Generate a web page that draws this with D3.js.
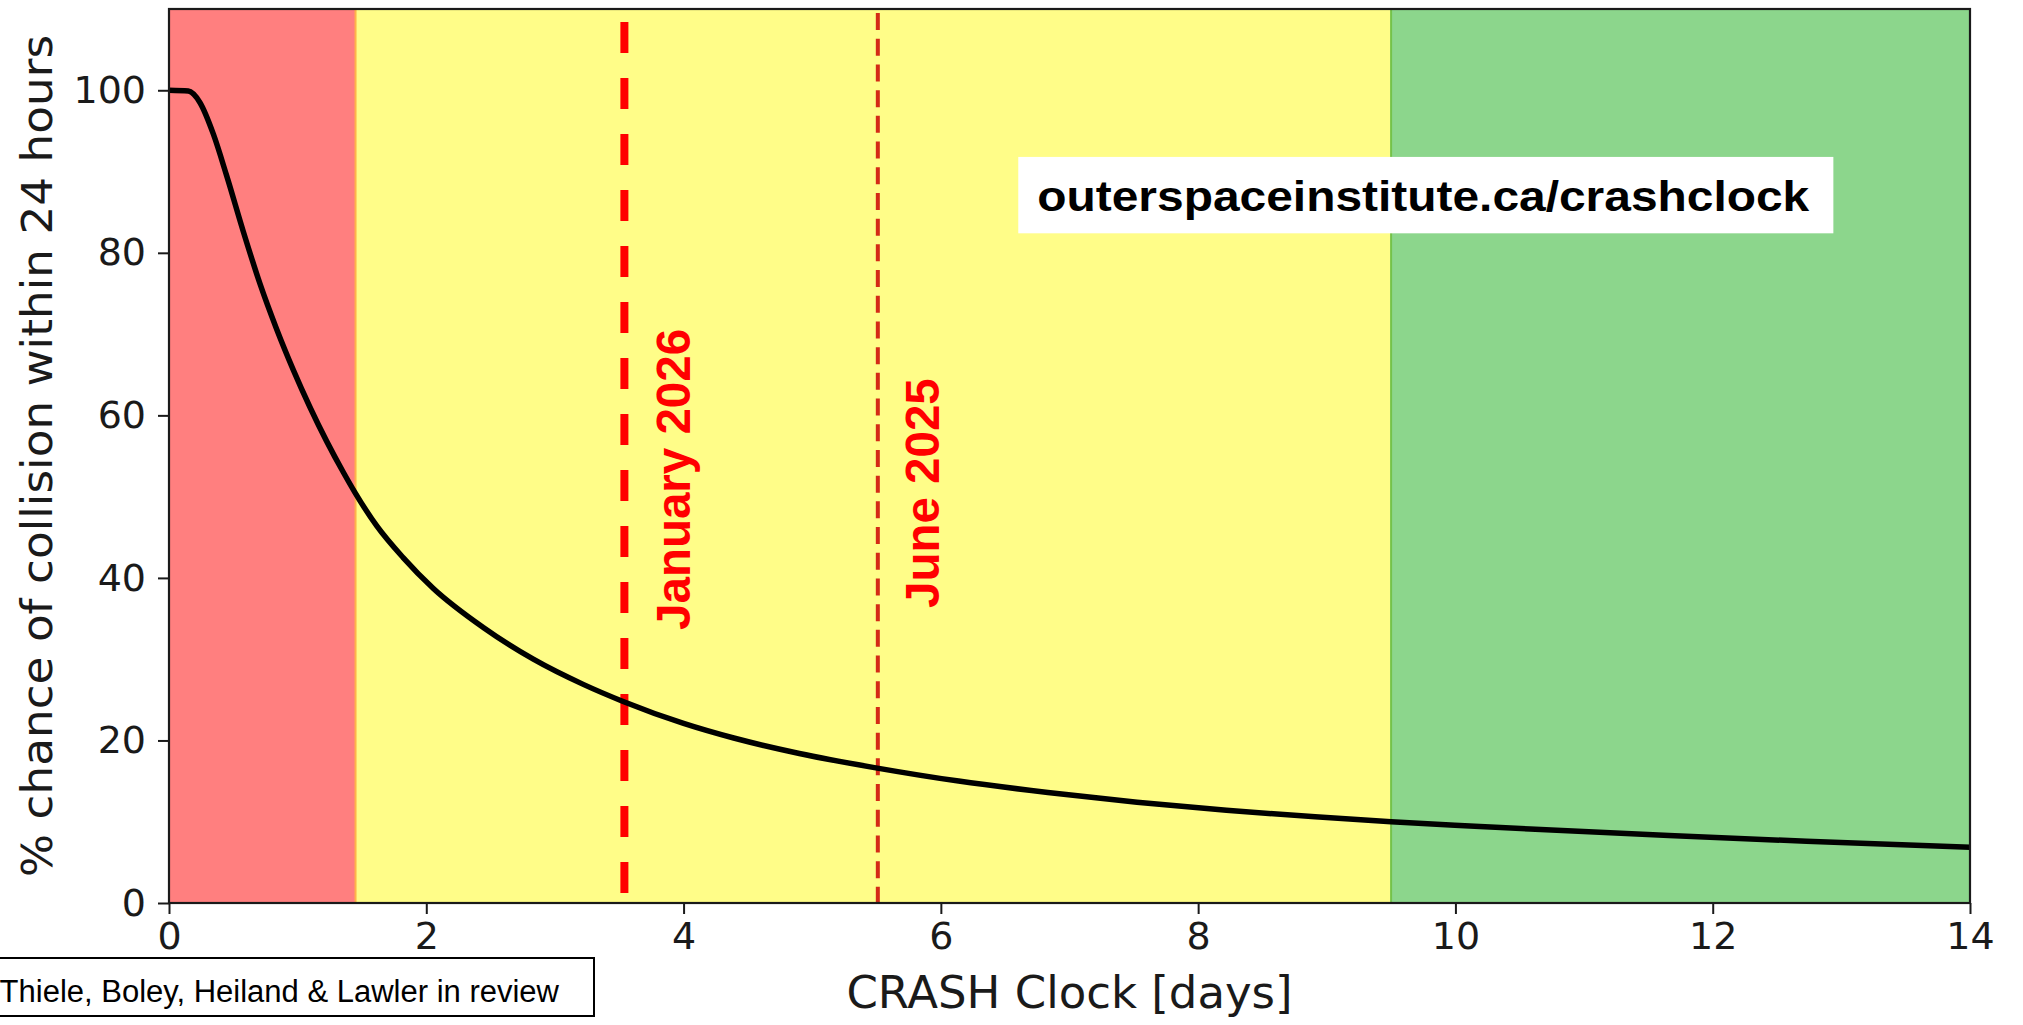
<!DOCTYPE html>
<html>
<head>
<meta charset="utf-8">
<script src="https://cdn.jsdelivr.net/npm/d3@7/dist/d3.min.js"></script>
<style>
  html, body { margin: 0; padding: 0; background: #ffffff; }
  svg { display: block; }
</style>
</head>
<body>
<svg id="chart" width="2023" height="1025"></svg>
<script>
// ---------- data ----------
const crashDays = [0, 0.15, 0.24, 0.345, 0.448, 0.578, 0.707, 0.837, 0.966, 1.096, 1.226, 1.355, 1.446, 1.615, 1.82, 2.055, 2.443, 2.832, 3.22, 3.53, 4.0, 4.39, 4.9, 5.506, 6.138, 6.832, 7.525, 8.22, 8.91, 9.5, 10.19, 10.58, 11.66, 12.73, 14.0];
const collisionPct = [100, 99.9, 98.5, 94.6, 89.5, 82.6, 76.2, 70.6, 65.6, 61.0, 56.8, 53.0, 50.5, 46.4, 42.5, 38.7, 33.9, 30.0, 26.9, 24.8, 22.1, 20.3, 18.4, 16.6, 15.0, 13.6, 12.4, 11.4, 10.6, 10.0, 9.42, 9.1, 8.3, 7.6, 6.85];
const zoneStarts = [0, 1.45, 9.5];
const zoneEnds = [1.45, 9.5, 14];
const markerDays = [3.54, 5.51];
const markerLabels = ["January 2026", "June 2025"];
const xTicks = [0, 2, 4, 6, 8, 10, 12, 14];
const yTicks = [0, 20, 40, 60, 80, 100];
const xDomain = [0, 14];
const yDomain = [0, 110];
const xTitle = "CRASH Clock [days]";
const yTitle = "% chance of collision within 24 hours";
const urlText = "outerspaceinstitute.ca/crashclock";
const citeText = "Thiele, Boley, Heiland & Lawler in review";

// ---------- styles ----------
const zoneFill = ["#ff7f7f", "#fffd88", "#8cd68c"];
const zoneEdge = ["#ffb24a", null, "#74c24a"];
const markerColor = ["#ff0000", "#d42a16"];
const markerWidth = [8, 4];
const markerDash = ["31,25", "17,8.7"];
const markerTop = [108.4, 109.5];
const markerBottom = [1.2, 0];
const labelOffset = [66, 61];
const labelStart = [33.6, 36.3];

const W = 2023, H = 1025;
const margin = { top: 9, right: 53, bottom: 122, left: 169 };
const iw = W - margin.left - margin.right;
const ih = H - margin.top - margin.bottom;

const svg = d3.select("#chart");
const g = svg.append("g").attr("transform", `translate(${margin.left},${margin.top})`);

const x = d3.scaleLinear().domain(xDomain).range([0, iw]);
const y = d3.scaleLinear().domain(yDomain).range([ih, 0]);

// zones
g.selectAll("rect.zone").data(zoneStarts).enter().append("rect")
  .attr("class", "zone")
  .attr("x", (d) => x(d))
  .attr("y", 0)
  .attr("width", (d, i) => x(zoneEnds[i]) - x(d))
  .attr("height", ih)
  .attr("fill", (d, i) => zoneFill[i]);

// zone edges
zoneStarts.forEach((d, i) => {
  if (!zoneEdge[i]) return;
  const ex = i === 0 ? x(zoneEnds[i]) : x(d);
  g.append("line").attr("x1", ex).attr("x2", ex).attr("y1", 0).attr("y2", ih)
    .attr("stroke", zoneEdge[i]).attr("stroke-width", 2);
});

// marker lines
markerDays.forEach((d, i) => {
  g.append("line")
    .attr("x1", x(d)).attr("x2", x(d))
    .attr("y1", y(markerTop[i])).attr("y2", y(markerBottom[i]))
    .attr("stroke", markerColor[i])
    .attr("stroke-width", markerWidth[i])
    .attr("stroke-dasharray", markerDash[i]);
});

// curve
const pts = crashDays.map((d, i) => [d, collisionPct[i]]);
const line = d3.line().x((d) => x(d[0])).y((d) => y(d[1])).curve(d3.curveMonotoneX);
g.append("path").datum(pts)
  .attr("d", line)
  .attr("fill", "none")
  .attr("stroke", "#000")
  .attr("stroke-width", 5.5)
  .attr("stroke-linejoin", "round");

// marker labels
markerDays.forEach((d, i) => {
  const lx = x(d) + labelOffset[i];
  const ly = y(labelStart[i]);
  g.append("text")
    .attr("transform", `translate(${lx},${ly}) rotate(-90)`)
    .attr("font-family", "'Liberation Sans', Arial, sans-serif")
    .attr("font-weight", "bold")
    .attr("font-size", 47.5)
    .attr("fill", "#ff0000")
    .text(markerLabels[i]);
});

// url annotation
const urlG = g.append("g");
const urlT = urlG.append("text")
  .attr("x", x(9.75)).attr("y", y(85.1))
  .attr("text-anchor", "middle")
  .attr("font-family", "'Liberation Sans', Arial, sans-serif")
  .attr("font-weight", "bold")
  .attr("font-size", 43)
  .attr("textLength", 772)
  .attr("lengthAdjust", "spacingAndGlyphs")
  .attr("fill", "#000")
  .text(urlText);
const bb = urlT.node().getBBox();
urlG.insert("rect", "text")
  .attr("x", bb.x - 19).attr("y", y(91.8))
  .attr("width", bb.width + 43).attr("height", y(82.4) - y(91.8))
  .attr("fill", "#ffffff");

// axes
const xAxis = d3.axisBottom(x).tickValues(xTicks).tickSize(11).tickPadding(8).tickFormat(d3.format("d"));
const yAxis = d3.axisLeft(y).tickValues(yTicks).tickSize(11).tickPadding(12).tickFormat(d3.format("d"));

const gx = g.append("g").attr("transform", `translate(0,${ih})`).call(xAxis);
const gy = g.append("g").call(yAxis);
[gx, gy].forEach((ax) => {
  ax.select(".domain").remove();
  ax.selectAll(".tick line").attr("stroke", "#1a1a1a").attr("stroke-width", 2);
  ax.selectAll(".tick text")
    .attr("fill", "#1a1a1a")
    .attr("font-family", "'DejaVu Sans', sans-serif")
    .attr("font-size", 38);
});
gx.selectAll(".tick text").attr("dy", "0.71em");

// frame
g.append("rect").attr("x", 0).attr("y", 0).attr("width", iw).attr("height", ih)
  .attr("fill", "none").attr("stroke", "#1a1a1a").attr("stroke-width", 2.2);

// axis titles
svg.append("text")
  .attr("x", margin.left + iw / 2).attr("y", 1008)
  .attr("text-anchor", "middle")
  .attr("font-family", "'DejaVu Sans', sans-serif")
  .attr("font-size", 45)
  .attr("fill", "#1a1a1a")
  .text(xTitle);

svg.append("text")
  .attr("transform", `translate(52,${margin.top + ih / 2}) rotate(-90)`)
  .attr("text-anchor", "middle")
  .attr("font-family", "'DejaVu Sans', sans-serif")
  .attr("font-size", 42)
  .attr("textLength", 842)
  .attr("lengthAdjust", "spacingAndGlyphs")
  .attr("fill", "#1a1a1a")
  .text(yTitle);

// citation box
svg.append("rect")
  .attr("x", -10).attr("y", 958)
  .attr("width", 604).attr("height", 58)
  .attr("fill", "#ffffff").attr("stroke", "#000").attr("stroke-width", 2);
svg.append("text")
  .attr("x", 559).attr("y", 1002)
  .attr("text-anchor", "end")
  .attr("font-family", "'Liberation Sans', Arial, sans-serif")
  .attr("font-size", 31)
  .attr("fill", "#000")
  .text(citeText);
</script>
</body>
</html>
